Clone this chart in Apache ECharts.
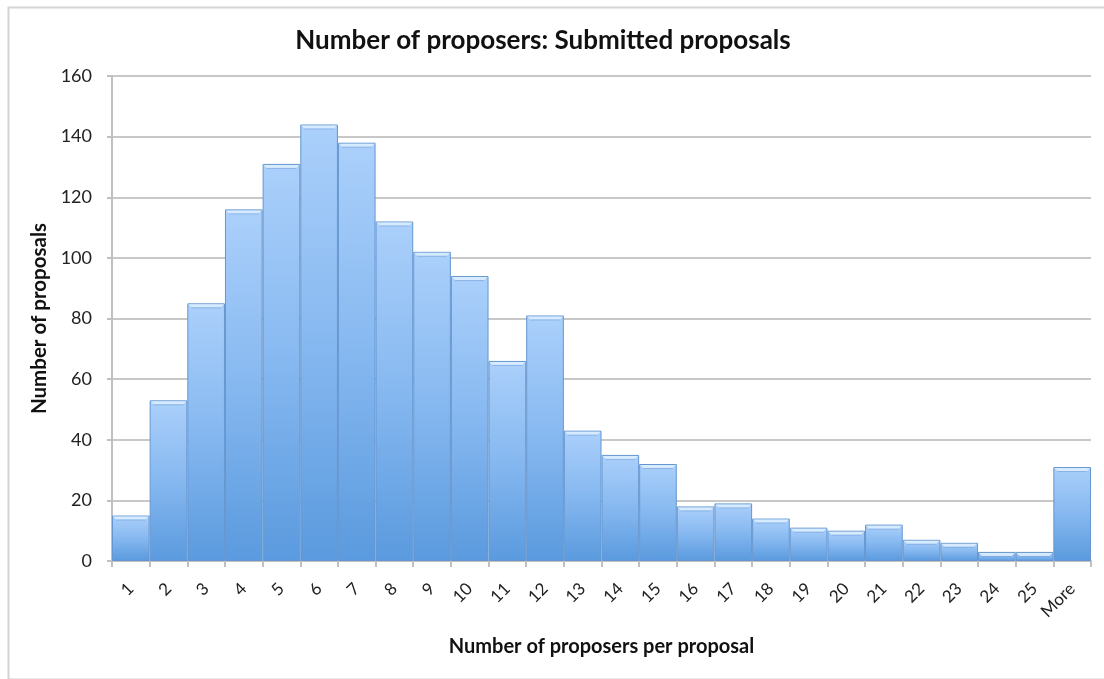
<!DOCTYPE html>
<html>
<head>
<meta charset="utf-8">
<title>Number of proposers: Submitted proposals</title>
<script src="https://cdn.jsdelivr.net/npm/echarts@6/dist/echarts.min.js"></script>
<style>
  html, body { margin: 0; padding: 0; background: #ffffff; }
  #chart { width: 1104px; height: 679px; }
</style>
</head>
<body>
<div id="chart"></div>
<script>
// Histogram bins: number of proposers on a proposal
const categories = ['1', '2', '3', '4', '5', '6', '7', '8', '9', '10', '11', '12', '13',
  '14', '15', '16', '17', '18', '19', '20', '21', '22', '23', '24', '25', 'More'];
// Count of submitted proposals in each bin
const proposalCounts = [15, 53, 85, 116, 131, 144, 138, 112, 102, 94, 66, 81, 43,
  35, 32, 18, 19, 14, 11, 10, 12, 7, 6, 3, 3, 31];
// Value axis ticks
const yTicks = [0, 20, 40, 60, 80, 100, 120, 140, 160];

const font = '"Lato", "Liberation Sans", sans-serif';
const chart = echarts.init(document.getElementById('chart'), null, { renderer: 'canvas' });

// Light bevel across the top of each bar, placed with the chart's own scales
function renderBevel(params, api) {
  const idx = api.value(0);
  const top = api.coord([idx, api.value(1)]);
  const size = api.size([1, 0]);
  const w = size[0];
  const x0 = top[0] - w / 2;
  const band = 4;
  return {
    type: 'group',
    children: [
      {
        type: 'polygon',
        shape: { points: [[x0 + 1, top[1] + 1], [x0 + w - 1, top[1] + 1], [x0 + w - band, top[1] + band], [x0 + band, top[1] + band]] },
        style: { fill: '#d6ebff' }
      },
      {
        type: 'line',
        shape: { x1: x0 + band, y1: top[1] + band + 0.5, x2: x0 + w - band, y2: top[1] + band + 0.5 },
        style: { stroke: 'rgba(120,160,215,0.6)', lineWidth: 1 }
      }
    ]
  };
}

chart.setOption({
  backgroundColor: '#ffffff',
  animation: false,
  graphic: [{
    type: 'rect',
    left: 6, top: 5,
    shape: { width: 1110, height: 672 },
    style: { fill: 'none', stroke: '#d4d4d4', lineWidth: 2 },
    silent: true, z: 0
  }],
  title: {
    text: 'Number of proposers: Submitted proposals',
    left: 538, top: 23, textAlign: 'center',
    textStyle: { fontFamily: font, fontWeight: 'bold', fontSize: 26, color: '#111' }
  },
  grid: { left: 112, right: 13, top: 76, bottom: 118, containLabel: false },
  xAxis: {
    type: 'category',
    data: categories,
    boundaryGap: true,
    name: 'Number of proposers per proposal',
    nameLocation: 'middle',
    nameGap: 76,
    nameTextStyle: { fontFamily: font, fontWeight: 'bold', fontSize: 20, color: '#111' },
    axisLine: { lineStyle: { color: '#c0c0c0', width: 2 } },
    axisTick: { show: true, length: 6, alignWithLabel: false, lineStyle: { color: '#c0c0c0', width: 2 } },
    axisLabel: { rotate: 45, margin: 25, fontFamily: font, fontSize: 17, color: '#222', interval: 0 },
    splitLine: { show: false }
  },
  yAxis: {
    type: 'value',
    min: yTicks[0],
    max: yTicks[yTicks.length - 1],
    interval: yTicks[1] - yTicks[0],
    name: 'Number of proposals',
    nameLocation: 'middle',
    nameGap: 52,
    nameTextStyle: { fontFamily: font, fontWeight: 'bold', fontSize: 20.5, color: '#111' },
    axisLine: { show: true, lineStyle: { color: '#c0c0c0', width: 2 } },
    axisTick: { show: true, length: 5, lineStyle: { color: '#c0c0c0', width: 2 } },
    axisLabel: { margin: 20, fontFamily: font, fontSize: 18, color: '#222' },
    splitLine: { show: true, lineStyle: { color: '#c8c8c8', width: 2 } }
  },
  series: [{
    type: 'bar',
    data: proposalCounts,
    barCategoryGap: '0%',
    itemStyle: {
      color: new echarts.graphic.LinearGradient(0, 0, 0, 1, [
        { offset: 0, color: '#abd0fb' },
        { offset: 0.5, color: '#86b8f0' },
        { offset: 1, color: '#5a9ade' }
      ]),
      borderColor: '#6596cf',
      borderWidth: 1
    },
    z: 2
  }, {
    type: 'custom',
    renderItem: renderBevel,
    data: proposalCounts.map((v, i) => [i, v]),
    encode: { x: 0, y: 1 },
    silent: true,
    z: 3
  }]
});
</script>
</body>
</html>
